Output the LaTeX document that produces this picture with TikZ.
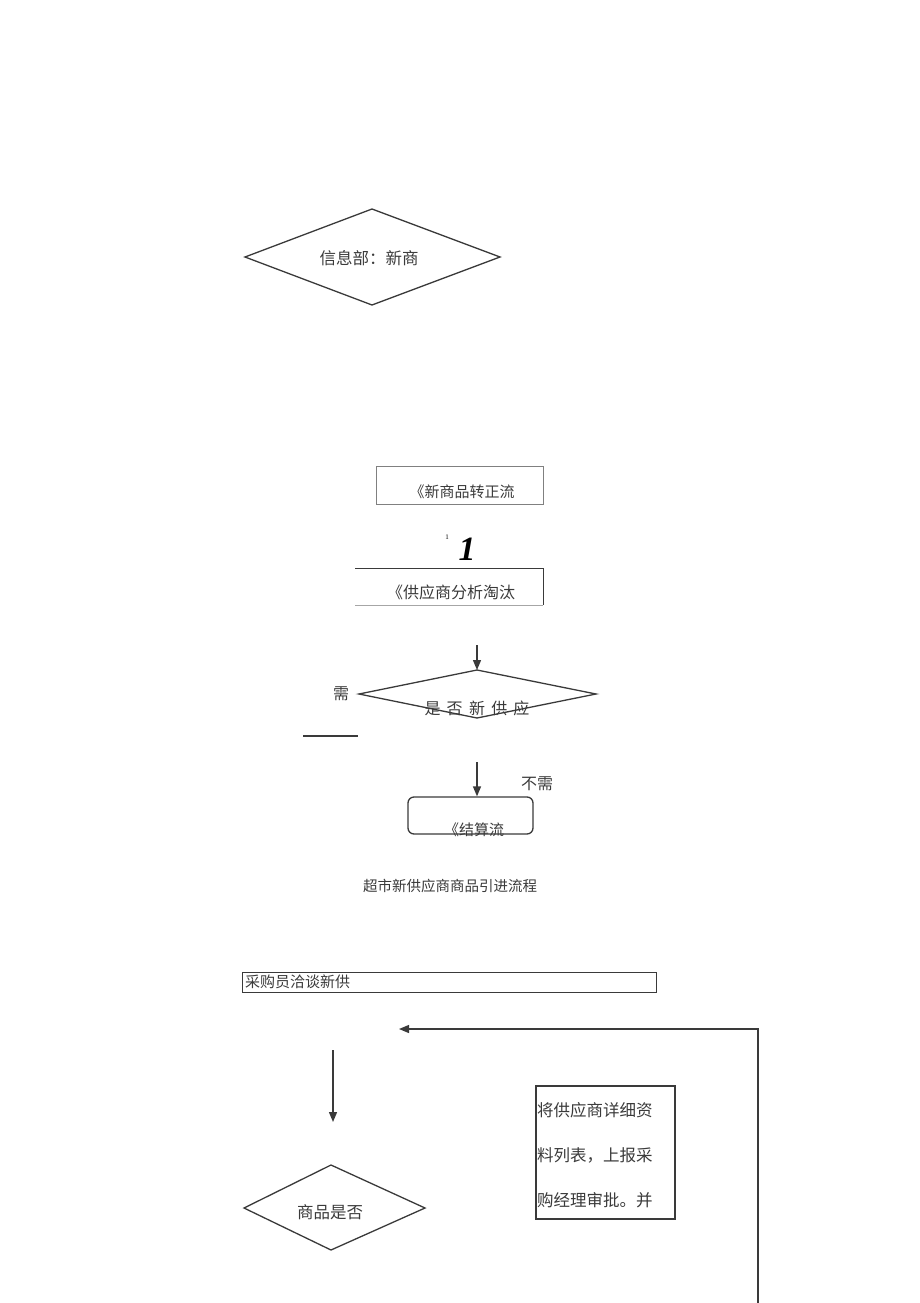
\documentclass[tikz,border=0pt]{standalone}
\usepackage{fontspec}
\setmainfont{Liberation Serif}
\newfontfamily\cjk{Noto Sans CJK SC}
\usetikzlibrary{shapes.geometric,arrows.meta}
\definecolor{ln}{HTML}{3A3A3A}
\definecolor{tx}{HTML}{3A3A3A}
\tikzset{
  x=1pt,y=-1pt,
  lbl/.style={inner sep=0pt,text=tx,font=\cjk\fontsize{15}{15}\selectfont},
  big/.style={inner sep=0pt,text=tx,font=\cjk\fontsize{16.5}{16.5}\selectfont},
  edge/.style={draw=ln,line width=1.3pt},
  arr/.style={draw=ln,line width=1.4pt,-{Triangle[length=10pt,width=8pt]}},
}
\begin{document}
\begin{tikzpicture}
\useasboundingbox (0,0) rectangle (920,1303);
% diamond 1
\coordinate (d1l) at (245,257); \coordinate (d1t) at (372,209);
\coordinate (d1r) at (500,257); \coordinate (d1b) at (372,305);
\draw[edge] (d1l) -- (d1t) -- (d1r) -- (d1b) -- cycle;
\node[big] (t1) at (369,258) {信息部：新商};
% box 2
\draw[draw=gray,line width=0.9pt] (376,466) rectangle (543,504);
\node[lbl] (t2) at (462,492) {《新商品转正流};
% the "1"s
\node[inner sep=0pt,font=\fontsize{7}{7}\selectfont] (n1) at (447,537) {1};
\node[inner sep=0pt,font=\itshape\bfseries\fontsize{34}{34}\selectfont] (n2) at (467,549) {1};
% box 4 (open left)
\draw[draw=ln,line width=0.9pt] (355,568) -- (543,568) -- (543,605);
\draw[draw=gray!70,line width=0.9pt] (355,605) -- (543,605);
\node[lbl,font=\cjk\fontsize{16}{16}\selectfont] (t4) at (451,592) {《供应商分析淘汰};
% arrow into diamond 2
\coordinate (a1s) at (477,645);
\coordinate (d2l) at (359,694); \coordinate (d2t) at (477,670);
\coordinate (d2r) at (596,694); \coordinate (d2b) at (477,718);
\draw[arr] (a1s) -- (d2t);
\draw[edge] (d2l) -- (d2t) -- (d2r) -- (d2b) -- cycle;
\node[lbl,font=\cjk\fontsize{16}{16}\selectfont] (t5) at (477,708) {是\,\ 否\,\ 新\,\ 供\,\ 应};
\node[lbl,font=\cjk\fontsize{16}{16}\selectfont] (xu) at (341,694) {需};
\coordinate (h1) at (303,736); \coordinate (h2) at (358,736);
\draw[draw=ln,line width=1.3pt] (h1) -- (h2);
% arrow to rounded box
\node[draw=ln,line width=1.3pt,rounded corners=6pt,minimum width=125pt,minimum height=37pt,inner sep=0pt] (rb) at (470.5,815.5) {};
\coordinate (a2s) at (477,762);
\draw[arr] (a2s) -- (rb.north -| a2s);
\node[lbl,font=\cjk\fontsize{16}{16}\selectfont] (bx) at (537,784) {不需};
\node[lbl] (t6) at (474,830) {《结算流};
% caption
\node[lbl,font=\cjk\fontsize{14.5}{14.5}\selectfont] (cap) at (450,886) {超市新供应商商品引进流程};
% box 13
\draw[draw=ln,line width=0.9pt] (242,972) rectangle (656,992);
\node[lbl] (t7) at (297.5,982) {采购员洽谈新供};
% feedback arrow
\coordinate (fb0) at (758,1303); \coordinate (fb1) at (758,1029); \coordinate (fb2) at (399,1029);
\draw[arr,line width=1.3pt] (fb0) -- (fb1) -- (fb2);
% down arrow
\coordinate (a3s) at (333,1050); \coordinate (a3e) at (333,1122);
\draw[arr] (a3s) -- (a3e);
% side box
\draw[draw=ln,line width=1.2pt] (536,1086) rectangle (675,1219);
\node[big,anchor=west] (s1) at (537,1110) {将供应商详细资};
\node[big,anchor=west] (s2) at (537,1155) {料列表，上报采};
\node[big,anchor=west] (s3) at (537,1200) {购经理审批。并};
% diamond 3
\coordinate (d3l) at (244,1208); \coordinate (d3t) at (331,1165);
\coordinate (d3r) at (425,1208); \coordinate (d3b) at (331,1250);
\draw[edge] (d3l) -- (d3t) -- (d3r) -- (d3b) -- cycle;
\node[big] (t8) at (330,1212) {商品是否};
\end{tikzpicture}
\end{document}
